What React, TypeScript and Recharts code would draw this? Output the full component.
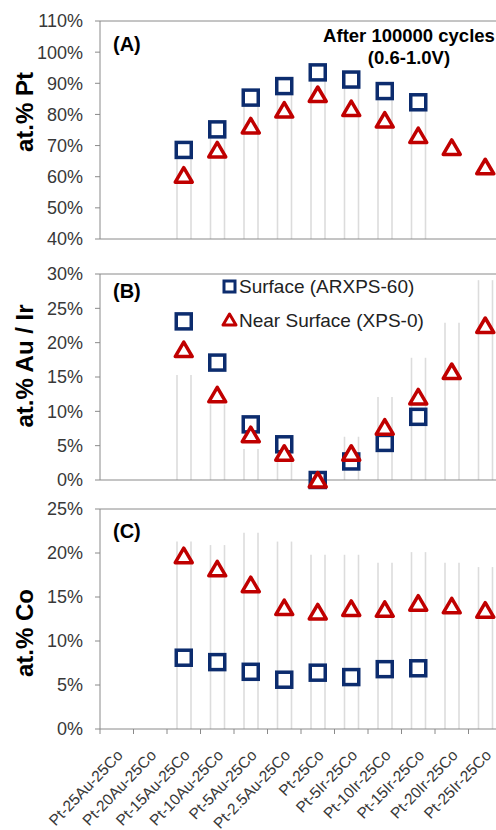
import { Bar, ComposedChart, Line, ReferenceLine, XAxis, YAxis } from 'recharts';

const CATEGORIES = [
  'Pt-25Au-25Co',
  'Pt-20Au-25Co',
  'Pt-15Au-25Co',
  'Pt-10Au-25Co',
  'Pt-5Au-25Co',
  'Pt-2.5Au-25Co',
  'Pt-25Co',
  'Pt-5Ir-25Co',
  'Pt-10Ir-25Co',
  'Pt-15Ir-25Co',
  'Pt-20Ir-25Co',
  'Pt-25Ir-25Co',
];

// (A) at.% Pt
const PT_SURFACE = [null, null, 68.6, 75.2, 85.4, 89.1, 93.5, 91.2, 87.5, 83.9, null, null];
const PT_NEAR = [null, null, 60.5, 68.6, 76.3, 81.4, 86.4, 81.9, 78.2, 73.2, 69.4, 63.2];
const PT_BULK = [null, null, 68.6, 75.2, 85.4, 89.1, 93.5, 91.2, 87.5, 83.9, null, null];

// (B) at.% Au / Ir
const M_SURFACE = [null, null, 23.1, 17.1, 8.1, 5.2, 0, 2.7, 5.4, 9.2, null, null];
const M_NEAR = [null, null, 19.0, 12.4, 6.6, 3.9, 0, 3.9, 7.7, 12.1, 15.8, 22.5];
const M_BULK = [null, null, 15.3, 11, 4.5, 2.6, 0, 6.3, 12.1, 17.8, 22.9, 29.1];

// (C) at.% Co
const CO_SURFACE = [null, null, 8.1, 7.6, 6.5, 5.6, 6.4, 5.9, 6.8, 6.9, null, null];
const CO_NEAR = [null, null, 19.7, 18.2, 16.4, 13.8, 13.3, 13.7, 13.6, 14.3, 14.0, 13.5];
const CO_BULK = [null, null, 21.3, 20.9, 22.3, 21.3, 19.8, 19.8, 18.9, 20.1, 18.9, 18.4];

const TICKS_A = [40, 50, 60, 70, 80, 90, 100, 110];
const TICKS_B = [0, 5, 10, 15, 20, 25, 30];
const TICKS_C = [0, 5, 10, 15, 20, 25];

const NAVY = '#0c2c6e';
const RED = '#c00000';
const AXIS = '#8a8a8a';
const BAR_EDGE = '#dcdcdc';
const TEXT = '#383838';
const FONT = '"Liberation Sans", Arial, sans-serif';

const CHART_W = 506;
const Y_W = 100;
const RIGHT = 4;
const BAND = (CHART_W - Y_W - RIGHT) / CATEGORIES.length;

const build = (surface: (number | null)[], near: (number | null)[], bulk: (number | null)[]) =>
  CATEGORIES.map((name, i) => ({ name, surface: surface[i], near: near[i], bulk: bulk[i] }));

const dataA = build(PT_SURFACE, PT_NEAR, PT_BULK);
const dataB = build(M_SURFACE, M_NEAR, M_BULK);
const dataC = build(CO_SURFACE, CO_NEAR, CO_BULK);

function SquareDot(props: any) {
  const { cx, cy, value, index } = props;
  if (cx == null || cy == null || value == null) return <g key={index} />;
  return (
    <rect key={index} x={cx - 7.5} y={cy - 7.5} width={15} height={15} fill="#fff" stroke={NAVY} strokeWidth={3.5} />
  );
}

function TriangleDot(props: any) {
  const { cx, cy, value, index } = props;
  if (cx == null || cy == null || value == null) return <g key={index} />;
  const pts = `${cx},${cy - 7.5} ${cx + 8.5},${cy + 7} ${cx - 8.5},${cy + 7}`;
  return <polygon key={index} points={pts} fill="#fff" stroke={RED} strokeWidth={3.5} strokeLinejoin="round" />;
}

function BarOutline(props: any) {
  const { x, y, width, height } = props;
  if (!height || height <= 0) return <g />;
  return (
    <g>
      <rect x={x} y={y} width={width} height={height} fill="#fff" />
      <line x1={x} x2={x} y1={y} y2={y + height} stroke={BAR_EDGE} strokeWidth={1.6} />
      <line x1={x + width} x2={x + width} y1={y} y2={y + height} stroke={BAR_EDGE} strokeWidth={1.6} />
    </g>
  );
}

function CategoryTick(props: any) {
  const { x, y, payload } = props;
  const ax = x + 7;
  const ay = y + 27;
  return (
    <g>
      <line x1={x - BAND / 2} x2={x - BAND / 2} y1={y} y2={y + 5} stroke={AXIS} />
      <text
        x={ax}
        y={ay}
        transform={`rotate(-46 ${ax} ${ay})`}
        textAnchor="end"
        fontSize={15.5}
        fill={TEXT}
        fontFamily={FONT}
      >
        {payload.value}
      </text>
    </g>
  );
}

function yTitle(text: string, cy: number) {
  return {
    content: () => (
      <text
        x={33}
        y={cy}
        transform={`rotate(-90 33 ${cy})`}
        textAnchor="middle"
        fontSize={24}
        fontWeight="bold"
        fill="#000"
        fontFamily={FONT}
      >
        {text}
      </text>
    ),
  };
}

const yTick = { fontSize: 18, fill: TEXT, fontFamily: FONT };

function Panel({
  data,
  domain,
  ticks,
  title,
  titleY,
  top,
  height,
  marginTop,
  showCategories,
}: {
  data: ReturnType<typeof build>;
  domain: [number, number];
  ticks: number[];
  title: string;
  titleY: number;
  top: number;
  height: number;
  marginTop: number;
  showCategories?: boolean;
}) {
  return (
    <div style={{ position: 'absolute', left: 0, top }}>
      <ComposedChart
        width={CHART_W}
        height={height}
        data={data}
        margin={{ top: marginTop, right: RIGHT, bottom: 0, left: 0 }}
        barSize={14}
      >
        {showCategories ? (
          <XAxis
            dataKey="name"
            interval={0}
            height={100}
            tickSize={0}
            tickMargin={0}
            tickLine={false}
            axisLine={{ stroke: AXIS }}
            tick={<CategoryTick />}
          />
        ) : (
          <XAxis dataKey="name" height={12} tick={false} tickLine={false} axisLine={{ stroke: AXIS }} />
        )}
        <YAxis
          type="number"
          domain={domain}
          ticks={ticks}
          interval={0}
          width={Y_W}
          tickSize={5}
          tickMargin={12}
          tick={yTick}
          tickLine={{ stroke: AXIS }}
          axisLine={{ stroke: AXIS }}
          tickFormatter={(v) => `${v}%`}
          label={yTitle(title, titleY)}
        />
        <ReferenceLine y={domain[1]} stroke={AXIS} />
        <Bar dataKey="bulk" shape={<BarOutline />} isAnimationActive={false} legendType="none" />
        <Line
          dataKey="surface"
          stroke="none"
          dot={SquareDot}
          activeDot={false}
          isAnimationActive={false}
          legendType="none"
        />
        <Line
          dataKey="near"
          stroke="none"
          dot={TriangleDot}
          activeDot={false}
          isAnimationActive={false}
          legendType="none"
        />
      </ComposedChart>
    </div>
  );
}

export default function App() {
  return (
    <div
      style={{
        position: 'absolute',
        left: 0,
        top: 0,
        width: 496,
        height: 830,
        overflow: 'hidden',
        background: '#fff',
        fontFamily: FONT,
      }}
    >
      <Panel data={dataA} domain={[40, 110]} ticks={TICKS_A} title="at.% Pt" titleY={112} top={0} height={251} marginTop={21} />
      <Panel data={dataB} domain={[0, 30]} ticks={TICKS_B} title="at.% Au / Ir" titleY={116} top={250} height={242} marginTop={24} />
      <Panel
        data={dataC}
        domain={[0, 25]}
        ticks={TICKS_C}
        title="at.% Co"
        titleY={143}
        top={490}
        height={339}
        marginTop={19}
        showCategories
      />
      <svg
        width={496}
        height={830}
        style={{ position: 'absolute', left: 0, top: 0, pointerEvents: 'none' }}
        fontFamily={FONT}
      >
        <text x={113} y={51} fontSize={20} fontWeight="bold">(A)</text>
        <text x={113} y={298} fontSize={20} fontWeight="bold">(B)</text>
        <text x={113} y={538} fontSize={20} fontWeight="bold">(C)</text>
        <text x={409} y={42} fontSize={18.5} fontWeight="bold" textAnchor="middle">After 100000 cycles</text>
        <text x={409} y={64} fontSize={18.5} fontWeight="bold" textAnchor="middle">(0.6-1.0V)</text>
        <rect x={224} y={281} width={11} height={11} fill="#fff" stroke={NAVY} strokeWidth={3} />
        <text x={239} y={293} fontSize={19} fill="#222">Surface (ARXPS-60)</text>
        <polygon points="229.5,314 236,325 223,325" fill="#fff" stroke={RED} strokeWidth={3} strokeLinejoin="round" />
        <text x={239} y={327} fontSize={19} fill="#222">Near Surface (XPS-0)</text>
      </svg>
    </div>
  );
}
